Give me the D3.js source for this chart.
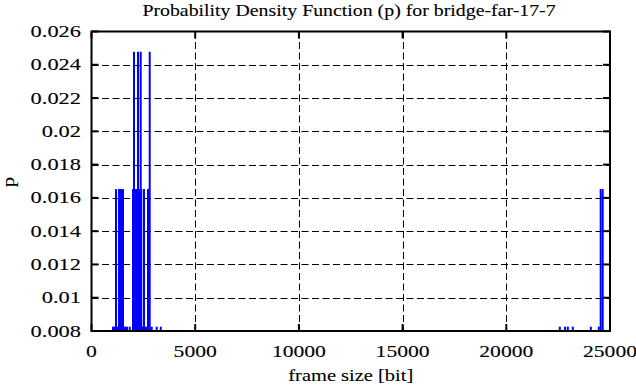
<!DOCTYPE html>
<html>
<head>
<meta charset="utf-8">
<script src="https://cdn.jsdelivr.net/npm/d3@7"></script>
<style>
  body { margin: 0; background: #fff; }
  svg { display: block; }
  text { font-family: "Liberation Serif", serif; font-size: 16px; fill: #000; stroke: #000; stroke-width: 0.1; }
</style>
</head>
<body>
<svg id="chart" width="636" height="387"></svg>
<script>
// frame sizes [bit] and their probabilities (impulses)
const frameSizes = [1037, 1108, 1181, 1254, 1326, 1422, 1519, 1615, 1712, 1842,
  2001, 2049, 2097, 2194, 2242, 2290, 2372, 2401, 2444, 2531, 2628, 2724, 2806, 2903,
  3144, 3341,
  22579, 22830, 22965, 23206, 24074, 24460, 24551, 24648];
const probs = [0.00826, 0.00826, 0.01653, 0.00826, 0.01653, 0.01653, 0.01653, 0.00826, 0.00826, 0.00826,
  0.01653, 0.02479, 0.01653, 0.01653, 0.02479, 0.01653, 0.02479, 0.01653, 0.00826, 0.01653, 0.00826, 0.01653, 0.02479, 0.00826,
  0.00826, 0.00826,
  0.00826, 0.00826, 0.00826, 0.00826, 0.00826, 0.00826, 0.01653, 0.01653];
const xTicks = [0, 5000, 10000, 15000, 20000, 25000];
const yTicks = [0.008, 0.01, 0.012, 0.014, 0.016, 0.018, 0.02, 0.022, 0.024, 0.026];

const title = 'Probability Density Function (p) for bridge-far-17-7';
const xLabel = 'frame size [bit]';
const yLabel = 'p';

const mLeft = 91.5, mRight = 610, mTop = 31.5, mBottom = 331;

const svg = d3.select('#chart');
const x = d3.scaleLinear().domain([0, 25000]).range([mLeft, mRight]);
const y = d3.scaleLinear().domain([0.008, 0.026]).range([mBottom, mTop]);

// helper: horizontally stretched text (gnuplot font is wide)
function label(tx, ty, str, anchor, sx, rot) {
    const g = svg.append('g')
        .attr('transform', 'translate(' + tx + ',' + ty + ')' + (rot ? ' rotate(' + rot + ')' : '') + ' scale(' + sx + ',1)');
    g.append('text').attr('text-anchor', anchor).text(str);
    return g;
}

// grid
svg.append('g').selectAll('line')
    .data(yTicks.slice(1, -1))
    .enter().append('line')
    .attr('x1', mLeft).attr('x2', mRight)
    .attr('y1', d => Math.round(y(d)) + 0.5).attr('y2', d => Math.round(y(d)) + 0.5)
    .attr('stroke', '#000').attr('stroke-width', 1).attr('stroke-dasharray', '7,3.5');
svg.append('g').selectAll('line')
    .data(xTicks.slice(1, -1))
    .enter().append('line')
    .attr('y1', mTop).attr('y2', mBottom)
    .attr('x1', d => Math.round(x(d)) + 0.5).attr('x2', d => Math.round(x(d)) + 0.5)
    .attr('stroke', '#000').attr('stroke-width', 1).attr('stroke-dasharray', '7,3.5');

// impulses
const pts = frameSizes.map((f, i) => ({ f: f, p: probs[i] }));
svg.append('g').selectAll('line')
    .data(pts)
    .enter().append('line')
    .attr('x1', d => x(d.f)).attr('x2', d => x(d.f))
    .attr('y1', y(0.008)).attr('y2', d => y(d.p))
    .attr('stroke', '#0000ff').attr('stroke-width', 2);

// ticks
const tk = svg.append('g').attr('stroke', '#000').attr('stroke-width', 2);
yTicks.forEach(d => {
    tk.append('line').attr('x1', mLeft).attr('x2', mLeft + 7).attr('y1', y(d)).attr('y2', y(d));
    tk.append('line').attr('x1', mRight - 7).attr('x2', mRight).attr('y1', y(d)).attr('y2', y(d));
});
xTicks.forEach(d => {
    tk.append('line').attr('x1', x(d)).attr('x2', x(d)).attr('y1', mBottom).attr('y2', mBottom - 7);
    tk.append('line').attr('x1', x(d)).attr('x2', x(d)).attr('y1', mTop).attr('y2', mTop + 7);
});

// border
svg.append('rect')
    .attr('x', mLeft).attr('y', mTop).attr('width', mRight - mLeft).attr('height', mBottom - mTop)
    .attr('fill', 'none').attr('stroke', '#000').attr('stroke-width', 2);

// tick labels
yTicks.forEach(d => label(81, y(d) + 5.5, String(+d.toFixed(3)), 'end', 1.4));
xTicks.forEach(d => label(x(d), 357, String(d), 'middle', 1.35));

label((mLeft + mRight) / 2, 381, xLabel, 'middle', 1.28);
label(14, 182, yLabel, 'middle', 1.3, -90);
label(349, 16, title, 'middle', 1.24);
</script>
</body>
</html>
